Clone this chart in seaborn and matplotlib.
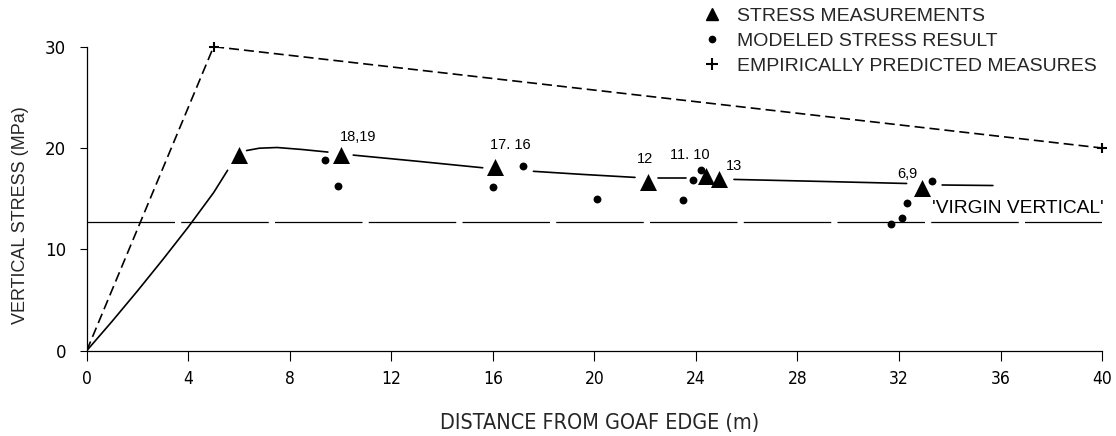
import numpy as np
import pandas as pd
import matplotlib
matplotlib.use("Agg")
import matplotlib.pyplot as plt
from matplotlib.lines import Line2D
import seaborn as sns

# ---- data ----
meas_x = [6.0, 10.0, 16.1, 22.1, 24.4, 24.9, 32.9]
meas_y = [19.3, 19.3, 18.1, 16.6, 17.2, 16.9, 16.1]

model_x = [9.4, 9.9, 16.0, 17.2, 20.1, 23.5, 23.9, 24.2, 31.7, 32.1, 32.3, 33.3]
model_y = [18.8, 16.3, 16.2, 18.2, 15.0, 14.9, 16.8, 17.8, 12.5, 13.1, 14.6, 16.7]

emp_x = [0, 5, 40]
emp_y = [0, 30, 20]
emp_mark_x = [5, 40]
emp_mark_y = [30, 20]

curve_seg = [0, 0, 0, 0, 0, 0, 0,
             1, 1, 1, 1, 1,
             2, 2, 2,
             3, 3, 3,
             4, 4,
             5, 5, 5,
             6, 6]
curve_x = [0, 1, 2, 3, 4, 5, 5.55,
           6.3, 6.8, 7.5, 8.5, 9.5,
           10.5, 13.0, 15.6,
           17.6, 19.5, 21.6,
           22.5, 23.6,
           25.5, 29.0, 32.3,
           33.7, 35.7]
curve_y = [0, 2.9, 5.9, 9.0, 12.2, 15.6, 17.8,
           19.75, 19.98, 20.05, 19.85, 19.6,
           19.3, 18.7, 18.05,
           17.7, 17.4, 17.1,
           17.0, 17.0,
           16.9, 16.7, 16.5,
           16.35, 16.3]

virgin_x = [0, 40]
virgin_y = [12.7, 12.7]

point_labels = ["18,19", "17. 16", "12", "11. 10", "13", "6,9"]
label_x = [10.7, 16.7, 22.0, 23.75, 25.5, 32.35]
label_y = [21.1, 20.3, 18.9, 19.3, 18.2, 17.4]

x_ticks = [0, 4, 8, 12, 16, 20, 24, 28, 32, 36, 40]
y_ticks = [0, 10, 20, 30]

legend_labels = ["STRESS MEASUREMENTS", "MODELED STRESS RESULT",
                 "EMPIRICALLY PREDICTED MEASURES"]

# ---- plot ----
sns.set_style("white")
plt.rcParams['font.family'] = ['Liberation Sans', 'DejaVu Sans']

fig = plt.figure(figsize=(11.16, 4.36), dpi=100)
ax = fig.add_axes([0.0777, 0.1956, 0.9098, 0.6974])

# virgin vertical line
sns.lineplot(x=virgin_x, y=virgin_y, ax=ax, color="black", lw=0.9,
             estimator=None, sort=False)
ax.lines[-1].set_dashes((70, 5))

# empirical dashed line
sns.lineplot(x=emp_x, y=emp_y, ax=ax, color="black", lw=1.2,
             estimator=None, sort=False)
ax.lines[-1].set_dashes((6, 3))

# fitted curve (solid, segmented)
df_curve = pd.DataFrame({"x": curve_x, "y": curve_y, "seg": curve_seg})
sns.lineplot(data=df_curve, x="x", y="y", units="seg", estimator=None,
             sort=False, ax=ax, color="black", lw=1.2)

# markers
sns.scatterplot(x=meas_x, y=meas_y, ax=ax, marker="^", s=150, color="black",
                edgecolor="black", linewidth=0, zorder=5)
sns.scatterplot(x=model_x, y=model_y, ax=ax, marker="o", s=32, color="black",
                edgecolor="black", linewidth=0, zorder=5)
sns.scatterplot(x=emp_mark_x, y=emp_mark_y, ax=ax, marker="+", s=60,
                color="black", linewidth=1.5, zorder=5, clip_on=False)

for t, lx, ly in zip(point_labels, label_x, label_y):
    ax.text(lx, ly, t, ha="center", va="center", fontsize=10.5, color="black")

ax.text(33.3, 14.0, "'VIRGIN VERTICAL'", ha="left", va="center",
        fontsize=13.8, color="black")

ax.set_xlim(0, 40)
ax.set_ylim(0, 30)
ax.set_xticks(x_ticks)
ax.set_yticks(y_ticks)
ax.set_xticklabels([str(v) for v in x_ticks], fontsize=12.5,
                   fontstretch="condensed", family=["DejaVu Sans"])
ax.set_yticklabels([str(v) for v in y_ticks], fontsize=12,
                   family=["DejaVu Sans"])
ax.tick_params(axis="x", direction="out", length=7, width=0.8, pad=7,
               bottom=True, colors="black")
ax.tick_params(axis="y", direction="out", length=5, width=0.8, pad=10,
               left=True, colors="black")
for side in ["top", "right"]:
    ax.spines[side].set_visible(False)
for side in ["left", "bottom"]:
    ax.spines[side].set_color("black")
    ax.spines[side].set_linewidth(0.9)

ax.set_xlabel("DISTANCE FROM GOAF EDGE (m)", fontsize=15.5,
              family=["DejaVu Sans"], fontstretch="condensed")
ax.set_ylabel("VERTICAL STRESS (MPa)", fontsize=13)
ax.xaxis.set_label_coords(0.505, -0.204)
ax.yaxis.set_label_coords(-0.057, 0.446)

handles = [
    Line2D([], [], marker="^", color="black", ls="none", markersize=9),
    Line2D([], [], marker="o", color="black", ls="none", markersize=4.5),
    Line2D([], [], marker="+", color="black", ls="none", markersize=8,
           markeredgewidth=1.5),
]
fig.legend(handles, legend_labels, loc="upper left",
           bbox_to_anchor=(0.6293, 0.984), frameon=False, fontsize=14,
           handlelength=0.95, handletextpad=0.85, labelspacing=0.38,
           borderpad=0, borderaxespad=0)

fig.savefig("out.png", dpi=100)
